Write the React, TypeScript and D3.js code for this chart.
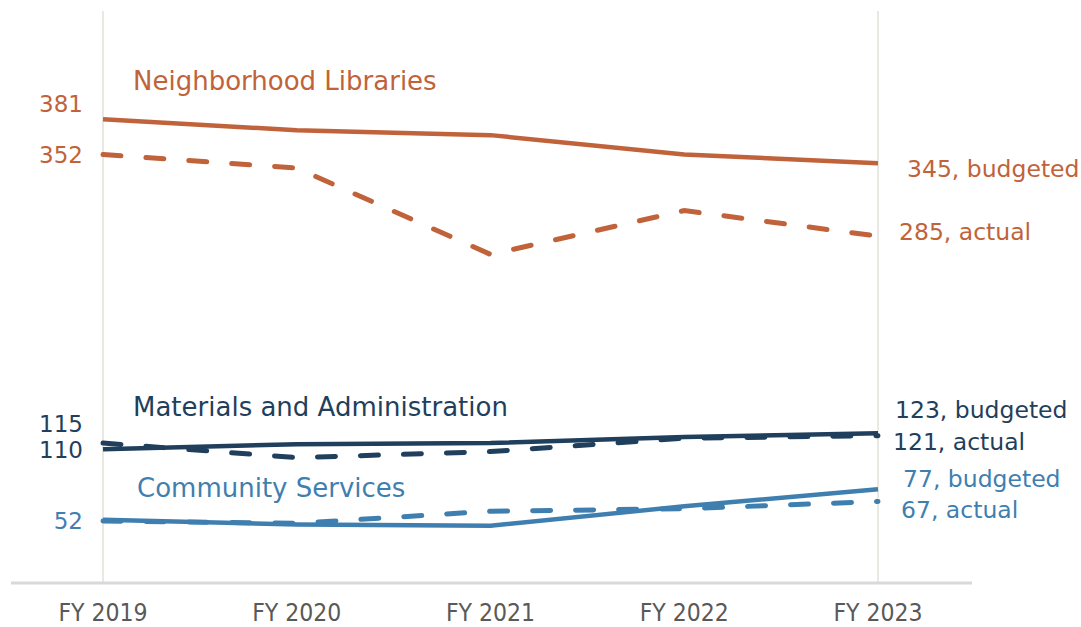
import React from "react";
import * as d3 from "d3";

const years = ["FY 2019", "FY 2020", "FY 2021", "FY 2022", "FY 2023"];

const librariesBudgeted = [381, 372, 368, 352, 345];
const librariesActual = [352, 341, 270, 306, 285];
const materialsBudgeted = [110, 114, 115, 120, 123];
const materialsActual = [115, 103, 108, 119, 121];
const communityBudgeted = [52, 48, 47, 63, 77];
const communityActual = [51, 49, 59, 61, 67];

const seriesNames = ["Neighborhood Libraries", "Materials and Administration", "Community Services"];

const ORANGE = "#C0633A";
const NAVY = "#1F3F5C";
const BLUE = "#3F7FB0";

const W = 1081;
const H = 627;

export default function App() {
  const x = d3.scalePoint<string>().domain(years).range([103, 878]);
  const y = d3.scaleLinear().domain([0, 470]).range([583, 11]);
  const line = d3
    .line<number>()
    .x((_, i) => x(years[i]) as number)
    .y((d) => y(d));

  const font = "'DejaVu Sans', Verdana, sans-serif";
  const axisFont = "'DejaVu Sans Condensed', 'Liberation Sans Narrow', 'DejaVu Sans', sans-serif";

  const groups = [
    { name: seriesNames[0], color: ORANGE, b: librariesBudgeted, a: librariesActual },
    { name: seriesNames[1], color: NAVY, b: materialsBudgeted, a: materialsActual },
    { name: seriesNames[2], color: BLUE, b: communityBudgeted, a: communityActual },
  ];

  const last = years.length - 1;
  const x0 = x(years[0]) as number;
  const xN = x(years[last]) as number;

  return (
    <svg width={W} height={H} style={{ position: "absolute", left: 0, top: 0, background: "#fff" }}>
      {[x0, xN].map((gx, i) => (
        <line key={i} x1={gx} x2={gx} y1={y(470)} y2={y(0)} stroke="#E3E0D8" strokeWidth={1.5} />
      ))}
      <line x1={11} x2={972} y1={y(0)} y2={y(0)} stroke="#D9D9D9" strokeWidth={3} />
      {years.map((yr) => (
        <text
          key={yr}
          x={x(yr) as number}
          y={621}
          textAnchor="middle"
          fontFamily={axisFont}
          fontSize={24.5}
          fill="#595959"
        >
          {yr}
        </text>
      ))}

      {groups.map((g, gi) => (
        <g key={gi}>
          <path d={line(g.a) || ""} fill="none" stroke={g.color} strokeWidth={5} strokeDasharray="18 25" strokeLinecap="round" />
          <path d={line(g.b) || ""} fill="none" stroke={g.color} strokeWidth={4.5} />
        </g>
      ))}

      <text x={133} y={90} fontFamily={font} fontSize={26} fill={ORANGE}>{seriesNames[0]}</text>
      <text x={133} y={416} fontFamily={font} fontSize={26} fill={NAVY}>{seriesNames[1]}</text>
      <text x={137} y={497} fontFamily={font} fontSize={26} fill={BLUE}>{seriesNames[2]}</text>

      <g fontFamily={font} fontSize={23} textAnchor="end">
        <text x={83} y={y(librariesBudgeted[0]) - 7} fill={ORANGE}>{librariesBudgeted[0]}</text>
        <text x={83} y={y(librariesActual[0]) + 8} fill={ORANGE}>{librariesActual[0]}</text>
        <text x={83} y={y(materialsActual[0]) - 11} fill={NAVY}>{materialsActual[0]}</text>
        <text x={83} y={y(materialsBudgeted[0]) + 9} fill={NAVY}>{materialsBudgeted[0]}</text>
        <text x={83} y={y(communityBudgeted[0]) + 9} fill={BLUE}>{communityBudgeted[0]}</text>
      </g>

      <g fontFamily={font} fontSize={23.5}>
        <text x={907} y={y(librariesBudgeted[last]) + 14} fill={ORANGE}>{`${librariesBudgeted[last]}, budgeted`}</text>
        <text x={899} y={y(librariesActual[last]) + 4} fill={ORANGE}>{`${librariesActual[last]}, actual`}</text>
        <text x={895} y={y(materialsBudgeted[last]) - 15} fill={NAVY}>{`${materialsBudgeted[last]}, budgeted`}</text>
        <text x={893} y={y(materialsActual[last]) + 14} fill={NAVY}>{`${materialsActual[last]}, actual`}</text>
        <text x={903} y={y(communityBudgeted[last]) - 2} fill={BLUE}>{`${communityBudgeted[last]}, budgeted`}</text>
        <text x={901} y={y(communityActual[last]) + 17} fill={BLUE}>{`${communityActual[last]}, actual`}</text>
      </g>
    </svg>
  );
}
